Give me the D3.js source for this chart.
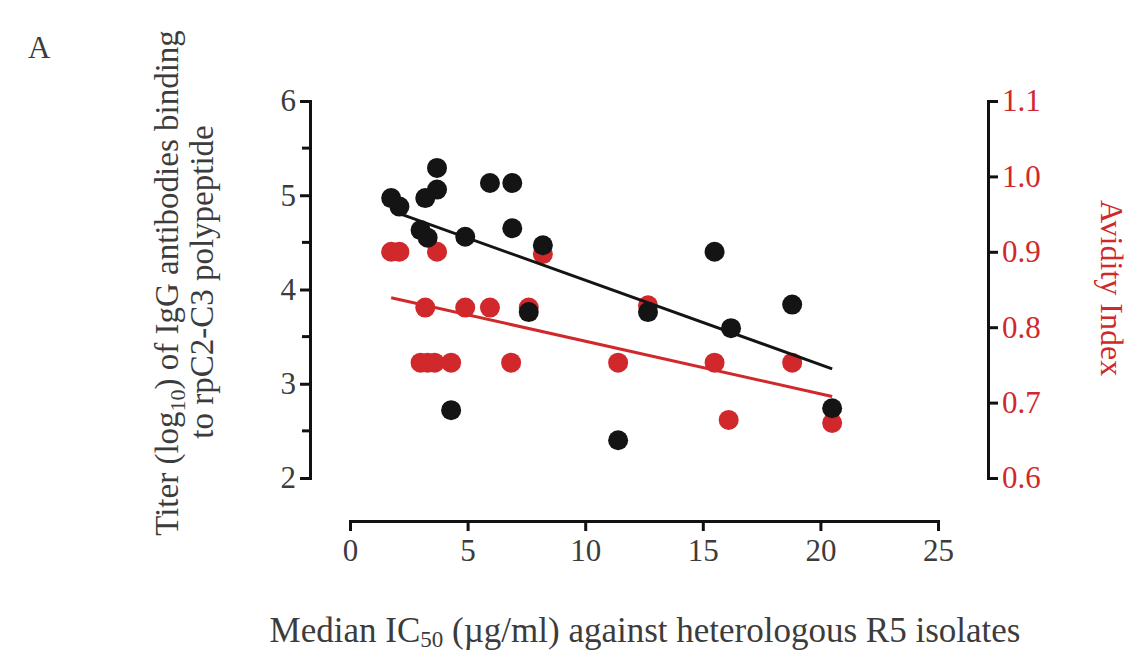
<!DOCTYPE html>
<html lang="en">
<head>
<meta charset="UTF-8">
<title>Titer and avidity vs IC50</title>
<script src="https://d3js.org/d3.v7.min.js"></script>
<style>
  body { margin: 0; background: #fff; }
  text { font-family: "Liberation Serif", "DejaVu Serif", serif; }
</style>
</head>
<body>
<div class="chart"></div>
<script>
// titer (log10) points, left axis
const titerX = [1.75, 2.1, 3.7, 3.7, 3.2, 3.0, 3.3, 4.9, 5.95, 6.9, 6.9, 8.2, 7.6, 4.3, 11.4, 12.67, 15.5, 16.2, 18.8, 20.5]
const titerY = [4.97, 4.88, 5.29, 5.06, 4.97, 4.63, 4.55, 4.56, 5.13, 5.13, 4.65, 4.47, 3.76, 2.72, 2.40, 3.76, 4.40, 3.59, 3.84, 2.74]
// avidity index points, right axis
const avidX = [1.75, 2.1, 3.7, 8.2, 3.2, 4.9, 5.95, 7.6, 12.67, 3.0, 3.3, 3.6, 4.3, 6.85, 11.4, 15.5, 18.8, 16.1, 20.5]
const avidY = [0.90, 0.90, 0.90, 0.897, 0.826, 0.826, 0.826, 0.826, 0.829, 0.753, 0.753, 0.753, 0.753, 0.753, 0.753, 0.753, 0.753, 0.677, 0.673]

const xTicks = [0, 5, 10, 15, 20, 25]
const leftTicks = [2, 3, 4, 5, 6]
const leftMinor = [2.5, 3.5, 4.5, 5.5]
const rightTicks = [0.6, 0.7, 0.8, 0.9, 1.0, 1.1]

const W = 1138, H = 657
const red = '#d0282b', ink = '#3c3c3c'

const svg = d3.select('.chart').append('svg')
  .attr('width', W).attr('height', H)

const x = d3.scaleLinear().domain([0, 25]).range([350, 938])
const yL = d3.scaleLinear().domain([2, 6]).range([478, 101])
const yR = d3.scaleLinear().domain([0.6, 1.1]).range([478, 101])

// axes
function styleAxis(g, color) {
  g.select('.domain').attr('stroke', '#111').attr('stroke-width', 3)
  g.selectAll('.tick line').attr('stroke', '#111').attr('stroke-width', 3)
  g.selectAll('.tick text')
    .attr('fill', color)
    .style('font-size', '31px')
    .style('font-family', '"Liberation Serif", serif')
}

const xAxis = svg.append('g')
  .attr('transform', 'translate(0,521)')
  .call(d3.axisBottom(x).tickValues(xTicks).tickSize(10).tickSizeOuter(10).tickPadding(8))
styleAxis(xAxis, ink)

const lAxis = svg.append('g')
  .attr('transform', 'translate(310,0)')
  .call(d3.axisLeft(yL).tickValues(leftTicks).tickSize(10).tickSizeOuter(10).tickPadding(4)
    .tickFormat(d3.format('d')))
styleAxis(lAxis, ink)
lAxis.selectAll('.minor').data(leftMinor).join('line')
  .attr('x1', -8).attr('x2', 0)
  .attr('y1', d => yL(d)).attr('y2', d => yL(d))
  .attr('stroke', '#111').attr('stroke-width', 3)

const rAxis = svg.append('g')
  .attr('transform', 'translate(988,0)')
  .call(d3.axisRight(yR).tickValues(rightTicks).tickSize(10).tickSizeOuter(10).tickPadding(4)
    .tickFormat(d3.format('.1f')))
styleAxis(rAxis, red)

// least-squares fit over the data range
function fit(xs, ys) {
  const mx = d3.mean(xs), my = d3.mean(ys)
  const b = d3.sum(xs, (v, i) => (v - mx) * (ys[i] - my)) / d3.sum(xs, v => (v - mx) ** 2)
  const a = my - b * mx
  const [x0, x1] = d3.extent(xs)
  return [[x0, a + b * x0], [x1, a + b * x1]]
}

const r = 10

svg.append('g').selectAll('circle')
  .data(avidX.map((v, i) => [v, avidY[i]]))
  .join('circle')
  .attr('cx', d => x(d[0])).attr('cy', d => yR(d[1]))
  .attr('r', r).attr('fill', red)

svg.append('g').selectAll('circle')
  .data(titerX.map((v, i) => [v, titerY[i]]))
  .join('circle')
  .attr('cx', d => x(d[0])).attr('cy', d => yL(d[1]))
  .attr('r', r).attr('fill', '#141414')

svg.append('path')
  .datum(fit(titerX, titerY))
  .attr('d', d3.line().x(d => x(d[0])).y(d => yL(d[1])))
  .attr('stroke', '#141414').attr('stroke-width', 3).attr('fill', 'none')

svg.append('path')
  .datum(fit(avidX, avidY))
  .attr('d', d3.line().x(d => x(d[0])).y(d => yR(d[1])))
  .attr('stroke', red).attr('stroke-width', 3).attr('fill', 'none')

// labels
svg.append('text').attr('x', 28).attr('y', 58)
  .attr('fill', ink).style('font-size', '31px').text('A')

const yLab = svg.append('text')
  .attr('transform', 'translate(178,283) rotate(-90)')
  .attr('text-anchor', 'middle').attr('fill', ink).style('font-size', '33px')
yLab.append('tspan').text('Titer (log')
yLab.append('tspan').attr('dy', 7).style('font-size', '22px').text('10')
yLab.append('tspan').attr('dy', -7).text(') of IgG antibodies binding')

svg.append('text')
  .attr('transform', 'translate(213,282) rotate(-90)')
  .attr('text-anchor', 'middle').attr('fill', ink).style('font-size', '33px')
  .text('to rpC2-C3 polypeptide')

svg.append('text')
  .attr('transform', 'translate(1101,288) rotate(90)')
  .attr('text-anchor', 'middle').attr('fill', red).style('font-size', '32px')
  .text('Avidity Index')

const xLab = svg.append('text')
  .attr('x', 645).attr('y', 642)
  .attr('text-anchor', 'middle').attr('fill', ink).style('font-size', '35px')
xLab.append('tspan').text('Median IC')
xLab.append('tspan').attr('dy', 5).style('font-size', '23px').text('50')
xLab.append('tspan').attr('dy', -5).text(' (µg/ml) against heterologous R5 isolates')
</script>
</body>
</html>
